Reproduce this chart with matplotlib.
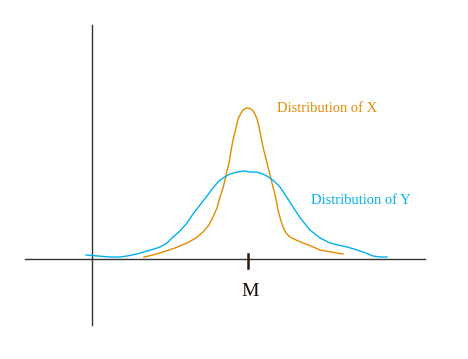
import matplotlib
matplotlib.use("Agg")
import matplotlib.pyplot as plt
import numpy as np

# curves: x offset from M, height above the baseline (pixels)
x_dist_x = [-104, -95, -85, -73, -61, -52, -45, -39, -35, -31, -28, -25, -23, -21, -19, -17,
            -15, -12, -10, -7, -5, -2, 0, 3, 5, 7, 9, 11, 13, 15, 18, 20, 23, 25, 28, 30,
            33, 35, 38, 42, 48, 55, 63, 72, 83, 95]
h_dist_x = [2, 4, 7, 11, 16, 21, 27, 34, 42, 51, 62, 71, 79, 88, 96, 108,
            119, 131, 140, 146, 149, 151, 151, 150, 148, 145, 140, 132, 122, 112, 100, 92, 80, 72, 60, 49,
            38, 32, 26, 22, 19, 16, 13, 9, 7, 5]

x_dist_y = [-162, -150, -138, -128, -121, -111, -101, -94, -88, -81, -75, -68, -61, -55, -48,
            -41, -35, -30, -25, -18, -11, -4, 2, 8, 12, 17, 22, 27, 32, 38, 45, 53, 62, 72,
            82, 90, 99, 106, 112, 118, 125, 132, 139]
h_dist_y = [4, 3, 2, 2, 3, 5, 8, 10, 12, 16, 22, 28, 36, 45, 54,
            63, 71, 77, 81, 85, 87, 88, 87, 87, 86, 84, 81, 77, 72, 63, 52, 40, 29, 21,
            16, 14, 12, 10, 8, 6, 3, 2, 2]

orange = "#E38B00"
blue = "#00B0EC"

fig = plt.figure(figsize=(4.68, 3.59), dpi=100)
ax = fig.add_axes([0, 0, 1, 1])
ax.set_xlim(-248, 220)
ax.set_ylim(-100, 259)
ax.axis("off")

# axes drawn by hand
ax.plot([-223, 177], [0, 0], color="#333333", lw=1.0)
ax.plot([-156, -156], [-66, 234], color="#333333", lw=1.0)
ax.plot([0, 0], [-9, 5], color="#2a1a10", lw=1.8)

ax.plot(x_dist_x, h_dist_x, color=orange, lw=1.0)
ax.plot(x_dist_y, h_dist_y, color=blue, lw=1.0)

ax.text(29, 150, "Distribution of X", color=orange, fontsize=10.5,
        family="Liberation Serif", va="center", ha="left")
ax.text(63, 59, "Distribution of Y", color=blue, fontsize=10.5,
        family="Liberation Serif", va="center", ha="left")
ax.text(2, -33, "M", color="#1a0d05", fontsize=14,
        family="Liberation Serif", va="center", ha="center")

fig.savefig("out.png", dpi=100)
